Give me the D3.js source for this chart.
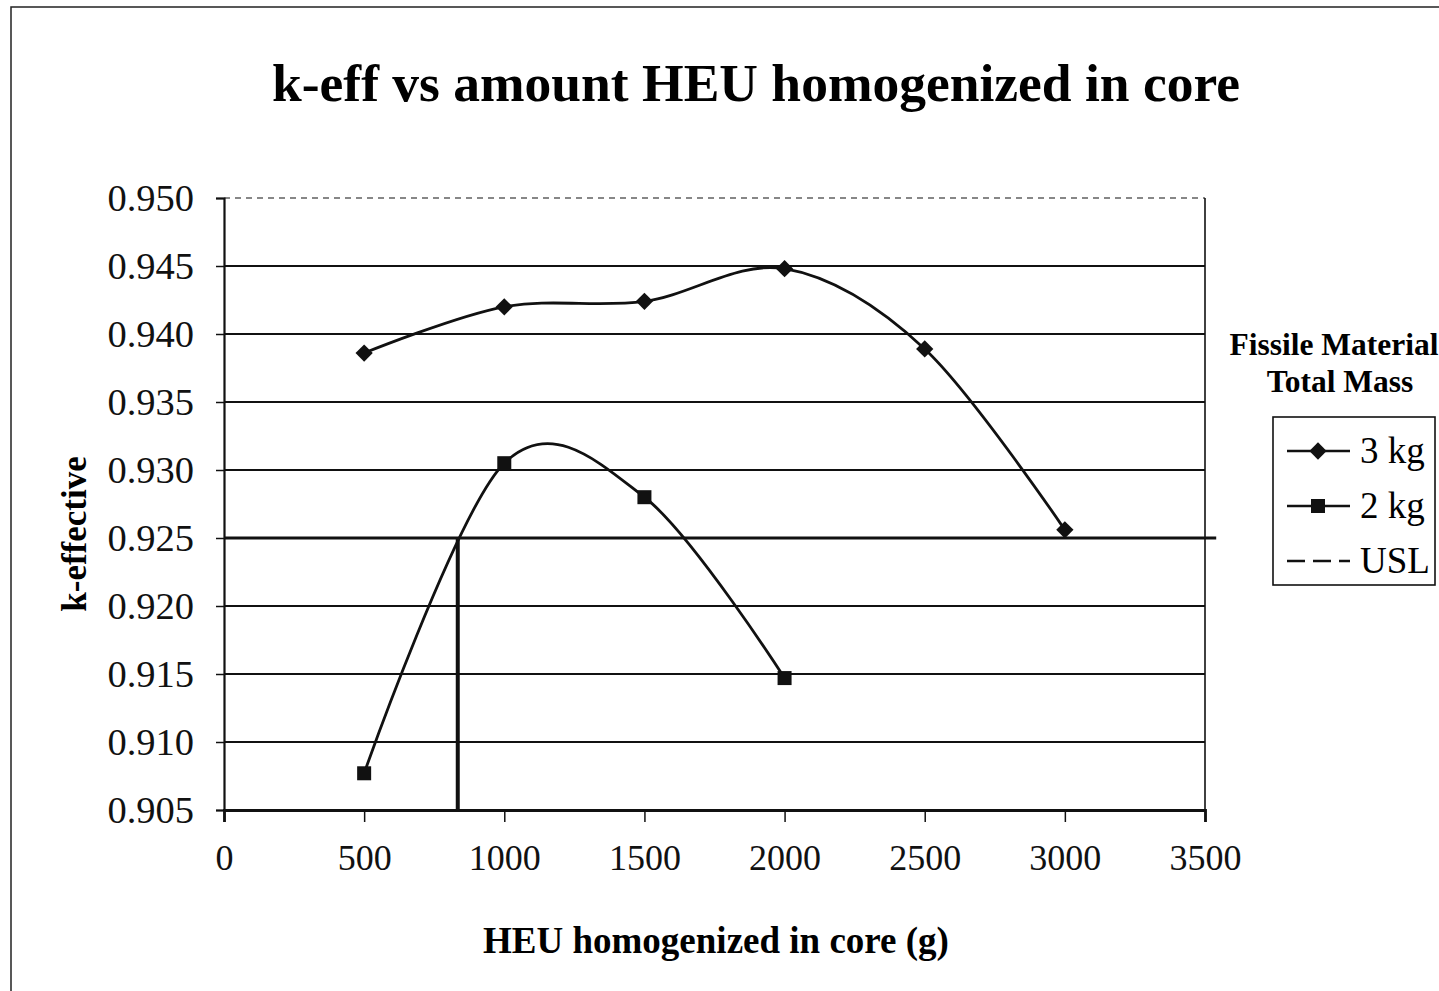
<!DOCTYPE html>
<html>
<head>
<meta charset="utf-8">
<script src="https://cdn.jsdelivr.net/npm/d3@7"></script>
<style>
body { margin: 0; background: #fff; }
svg { font-family: "Liberation Serif", "Times New Roman", serif; }
.tick text { fill: #111; }
</style>
</head>
<body>
<svg id="chart" width="1439" height="991"></svg>
<script>
// data
const masses = [500, 1000, 1500, 2000, 2500, 3000];
const keff3kg = [0.9386, 0.9420, 0.9424, 0.9448, 0.9389, 0.9256];
const masses2 = [500, 1000, 1500, 2000];
const keff2kg = [0.9077, 0.9305, 0.9280, 0.9147];
const uslValue = 0.925;
const uslCross = 834;      // where the 2 kg curve meets the USL
const xTicks = [0, 500, 1000, 1500, 2000, 2500, 3000, 3500];
const yTicks = [0.905, 0.910, 0.915, 0.920, 0.925, 0.930, 0.935, 0.940, 0.945, 0.950];
const legendItems = ["3 kg", "2 kg", "USL"];

const svg = d3.select("#chart");

const plotLeft = 224, plotRight = 1205, plotTop = 198, plotBottom = 810;
const x = d3.scaleLinear().domain([0, 3500]).range([plotLeft, plotRight]);
const y = d3.scaleLinear().domain([0.905, 0.950]).range([plotBottom, plotTop]);

// outer frame
svg.append("rect")
    .attr("x", 11).attr("y", 7)
    .attr("width", 1500).attr("height", 1100)
    .attr("fill", "none").attr("stroke", "#222").attr("stroke-width", 1.5);

// title
svg.append("text")
    .attr("x", 756).attr("y", 101)
    .attr("text-anchor", "middle")
    .attr("font-weight", "bold").attr("font-size", 53.5)
    .text("k-eff vs amount HEU homogenized in core");

// gridlines
svg.append("g")
    .selectAll("line")
    .data(yTicks.filter(d => d > 0.905 && d !== uslValue))
    .join("line")
    .attr("x1", plotLeft).attr("x2", plotRight)
    .attr("y1", d => y(d)).attr("y2", d => y(d))
    .attr("stroke", "#111")
    .attr("stroke-width", d => d === 0.950 ? 1.2 : 2)
    .attr("stroke-dasharray", d => d === 0.950 ? "6,5" : null);

// right border of plot
svg.append("line")
    .attr("x1", plotRight).attr("x2", plotRight)
    .attr("y1", plotTop).attr("y2", plotBottom)
    .attr("stroke", "#111").attr("stroke-width", 1.6);

// axes
const yAxis = d3.axisLeft(y).tickValues(yTicks).tickFormat(d3.format(".3f"))
    .tickSize(8).tickPadding(22);
const gy = svg.append("g").attr("transform", `translate(${plotLeft},0)`).call(yAxis);
gy.select(".domain").attr("stroke", "#111").attr("stroke-width", 2.2);
gy.selectAll(".tick line").attr("stroke", "#111").attr("stroke-width", 1.5);
gy.selectAll(".tick text").attr("font-size", 38.5).attr("font-family", "Liberation Serif");

const xAxis = d3.axisBottom(x).tickValues(xTicks).tickFormat(d3.format("d"))
    .tickSize(12).tickPadding(22);
const gx = svg.append("g").attr("transform", `translate(0,${plotBottom})`).call(xAxis);
gx.select(".domain").attr("stroke", "#111").attr("stroke-width", 2.8);
gx.selectAll(".tick line").attr("stroke", "#111").attr("stroke-width", 1.5);
gx.selectAll(".tick text").attr("font-size", 36).attr("font-family", "Liberation Serif");

// axis titles
svg.append("text")
    .attr("x", 716).attr("y", 953)
    .attr("text-anchor", "middle")
    .attr("font-weight", "bold").attr("font-size", 37)
    .text("HEU homogenized in core (g)");

svg.append("text")
    .attr("transform", "translate(86,534) rotate(-90)")
    .attr("text-anchor", "middle")
    .attr("font-weight", "bold").attr("font-size", 35)
    .text("k-effective");

// USL lines
svg.append("line")
    .attr("x1", x(0)).attr("x2", x(3540))
    .attr("y1", y(uslValue)).attr("y2", y(uslValue))
    .attr("stroke", "#111").attr("stroke-width", 3.2);
svg.append("line")
    .attr("x1", x(uslCross)).attr("x2", x(uslCross))
    .attr("y1", y(uslValue)).attr("y2", y(0.905))
    .attr("stroke", "#111").attr("stroke-width", 4);

// series
const line = d3.line()
    .x(d => x(d[0])).y(d => y(d[1]))
    .curve(d3.curveCardinal.tension(0));

const s3 = masses.map((m, i) => [m, keff3kg[i]]);
const s2 = masses2.map((m, i) => [m, keff2kg[i]]);

svg.append("path").datum(s3).attr("d", line)
    .attr("fill", "none").attr("stroke", "#111").attr("stroke-width", 2.8);
svg.append("path").datum(s2).attr("d", line)
    .attr("fill", "none").attr("stroke", "#111").attr("stroke-width", 2.8);

const diamond = d3.symbol().type(d3.symbolDiamond2).size(190);
svg.append("g").selectAll("path")
    .data(s3).join("path")
    .attr("d", diamond)
    .attr("transform", d => `translate(${x(d[0])},${y(d[1])})`)
    .attr("fill", "#111");

svg.append("g").selectAll("rect")
    .data(s2).join("rect")
    .attr("x", d => x(d[0]) - 7).attr("y", d => y(d[1]) - 7)
    .attr("width", 14).attr("height", 14)
    .attr("fill", "#111");

// legend
const lg = svg.append("g");
lg.append("text")
    .attr("x", 1334).attr("y", 355)
    .attr("text-anchor", "middle")
    .attr("font-weight", "bold").attr("font-size", 31.5)
    .text("Fissile Material");
lg.append("text")
    .attr("x", 1340).attr("y", 392)
    .attr("text-anchor", "middle")
    .attr("font-weight", "bold").attr("font-size", 31.5)
    .text("Total Mass");

lg.append("rect")
    .attr("x", 1273).attr("y", 417)
    .attr("width", 162).attr("height", 168)
    .attr("fill", "none").attr("stroke", "#111").attr("stroke-width", 1.6);

const rows = lg.selectAll("g.row")
    .data(legendItems).join("g")
    .attr("class", "row")
    .attr("transform", (d, i) => `translate(0,${451 + i * 55})`);

rows.append("line")
    .attr("x1", 1287).attr("x2", 1350)
    .attr("y1", 0).attr("y2", 0)
    .attr("stroke", "#111").attr("stroke-width", 2.4)
    .attr("stroke-dasharray", d => d === "USL" ? "18,8" : null);

rows.filter(d => d === "3 kg").append("path")
    .attr("d", diamond)
    .attr("transform", "translate(1318,0)")
    .attr("fill", "#111");
rows.filter(d => d === "2 kg").append("rect")
    .attr("x", 1311).attr("y", -7)
    .attr("width", 14).attr("height", 14)
    .attr("fill", "#111");

rows.append("text")
    .attr("x", 1360).attr("y", 12)
    .attr("font-size", 37)
    .text(d => d);
</script>
</body>
</html>
